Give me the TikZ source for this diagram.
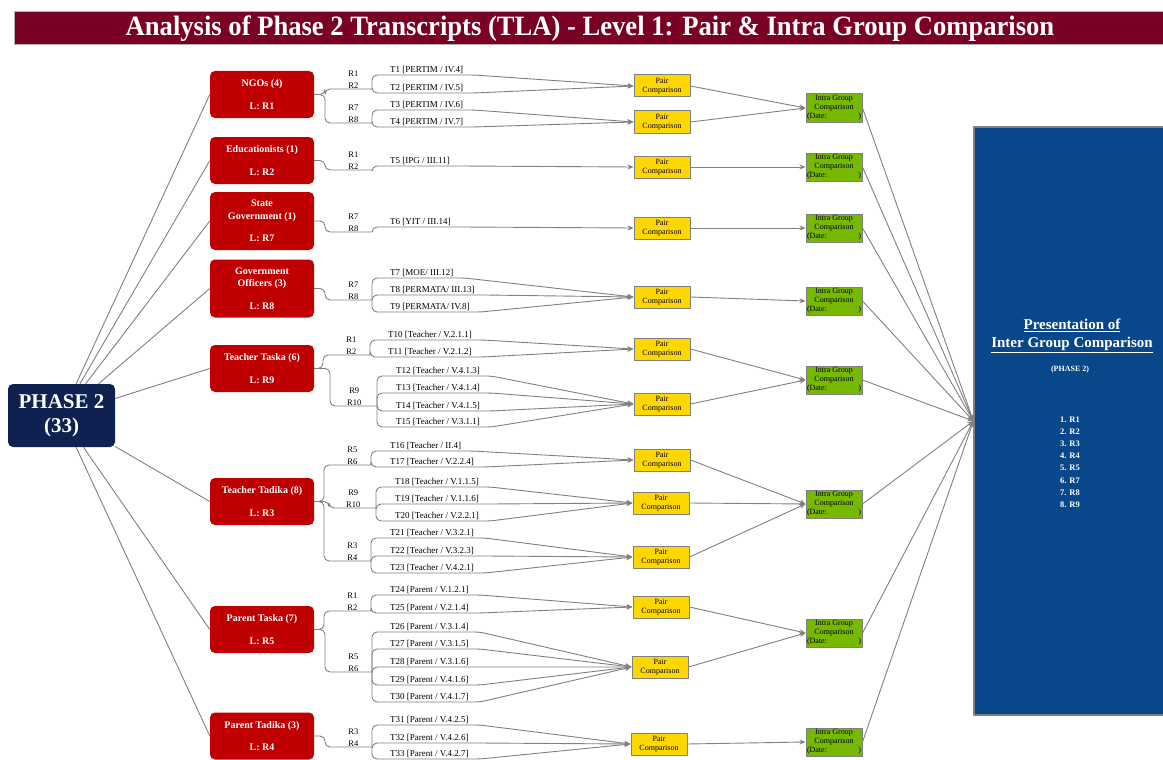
\documentclass[tikz,border=0pt]{standalone}
\usepackage{fontspec}
\setmainfont{Liberation Serif}
\newfontfamily\titlefont[FakeStretch=0.95]{Liberation Serif}
\usetikzlibrary{positioning,arrows.meta}
\definecolor{titlered}{HTML}{7B0026}
\definecolor{groupred}{HTML}{C00000}
\definecolor{phasenavy}{HTML}{0E2150}
\definecolor{pairyellow}{HTML}{FFD700}
\definecolor{intragreen}{HTML}{76B900}
\definecolor{presblue}{HTML}{08488A}
\definecolor{linegray}{HTML}{808080}
\tikzset{
  link/.style={draw=linegray,line width=0.9pt},
  arr/.style={link,-{Stealth[length=6pt,width=5pt]}},
  titlebar/.style={fill=titlered,draw=gray!60,line width=1pt,minimum width=1152pt,minimum height=33pt,inner sep=0pt,text=white,font=\titlefont\bfseries\fontsize{28}{30}\selectfont},
  phase/.style={fill=phasenavy,rounded corners=5pt,minimum width=107pt,minimum height=63pt,inner sep=0pt,align=center,text=white,font=\bfseries\fontsize{21}{24}\selectfont},
  grp/.style={fill=groupred,rounded corners=5pt,minimum width=104pt,minimum height=47pt,inner sep=0pt,align=center,text=white,font=\bfseries\fontsize{10}{12.5}\selectfont},
  tlab/.style={anchor=south west,inner sep=1pt,font=\fontsize{9}{10}\selectfont},
  rlab/.style={align=center,inner sep=0.5pt,font=\fontsize{8.5}{11.5}\selectfont},
  pair/.style={draw=gray,line width=1pt,fill=pairyellow,minimum width=56pt,minimum height=22pt,inner sep=0pt,align=center,font=\fontsize{8}{9.5}\selectfont},
  intra/.style={draw=gray,line width=1pt,fill=intragreen,minimum width=56pt,minimum height=28pt,inner sep=0pt,align=center,font=\fontsize{8}{9}\selectfont},
  present/.style={draw=gray,line width=1.2pt,fill=presblue,minimum width=192pt,minimum height=588pt,inner sep=0pt},
  prestext/.style={text=white,align=center,inner sep=0pt,font=\bfseries\fontsize{8.5}{12.2}\selectfont}
}
\begin{document}
\begin{tikzpicture}[x=1pt,y=-1pt,line join=round]
\useasboundingbox (0,0) rectangle (1163,760);
% title
\node[titlebar] (title) at (590,28.5) {Analysis of Phase 2 Transcripts (TLA) - Level 1: Pair \& Intra Group Comparison};
% phase and groups
\node[phase] (ph) at (61.5,415.5) {PHASE 2\\(33)};
\node[grp] (g1) at (262,94.5) {NGOs (4)\\[10pt]L: R1};
\node[grp] (g2) at (262,160.5) {Educationists (1)\\[10pt]L: R2};
\node[grp,minimum height=58pt] (g3) at (262,221) {State\\Government (1)\\[10pt]L: R7};
\node[grp,minimum height=58pt] (g4) at (262,288.5) {Government\\Officers (3)\\[10pt]L: R8};
\node[grp] (g5) at (262,368.5) {Teacher Taska (6)\\[10pt]L: R9};
\node[grp] (g6) at (262,501.5) {Teacher Tadika (8)\\[10pt]L: R3};
\node[grp] (g7) at (262,629.5) {Parent Taska (7)\\[10pt]L: R5};
\node[grp] (g8) at (262,736) {Parent Tadika (3)\\[10pt]L: R4};
\foreach \g in {g1,g2,g3,g4,g5,g6,g7,g8}
  \draw[link] (ph) -- (\g.west);
% branch points
\coordinate (b1) at (372,89);
\coordinate (b2) at (372,123);
\coordinate (b3) at (372,170);
\coordinate (b4) at (372,232);
\coordinate (b5) at (372,300);
\coordinate (b6) at (370,355);
\coordinate (b7) at (377,406);
\coordinate (b8) at (371,465);
\coordinate (b9) at (376,508);
\coordinate (b10) at (371,561);
\coordinate (b11) at (371,611);
\coordinate (b12) at (372,672);
\coordinate (b13) at (372,747);
\foreach \g/\br in {g1/b1,g1/b2,g2/b3,g3/b4,g4/b5,g5/b6,g5/b7,g6/b8,g6/b9,g6/b10,g7/b11,g7/b12,g8/b13}
  \draw[link,rounded corners=5pt] (\g.east) -| ([xshift=-47pt]\br) -- (\br);
% respondents
\node[rlab,above left=0pt and 13pt of b1] (r1) {R1\\R2};
\node[rlab,above left=0pt and 13pt of b2] (r2) {R7\\R8};
\node[rlab,above left=0pt and 13pt of b3] (r3) {R1\\R2};
\node[rlab,above left=0pt and 13pt of b4] (r4) {R7\\R8};
\node[rlab,above left=0pt and 13pt of b5] (r5) {R7\\R8};
\node[rlab,above left=0pt and 13pt of b6] (r6) {R1\\R2};
\node[rlab,above left=0pt and 15pt of b7] (r7) {R9\\R10};
\node[rlab,above left=0pt and 13pt of b8] (r8) {R5\\R6};
\node[rlab,above left=0pt and 15pt of b9] (r9) {R9\\R10};
\node[rlab,above left=0pt and 13pt of b10] (r10) {R3\\R4};
\node[rlab,above left=0pt and 13pt of b11] (r11) {R1\\R2};
\node[rlab,above left=0pt and 13pt of b12] (r12) {R5\\R6};
\node[rlab,above left=0pt and 13pt of b13] (r13) {R3\\R4};
% transcripts
\node[tlab] (t1) at (389,75) {T1 [PERTIM / IV.4]};
\node[tlab] (t2) at (389,93) {T2 [PERTIM / IV.5]};
\node[tlab] (t3) at (389,110) {T3 [PERTIM / IV.6]};
\node[tlab] (t4) at (389,127) {T4 [PERTIM / IV.7]};
\node[tlab] (t5) at (389,166) {T5 [IPG / III.11]};
\node[tlab] (t6) at (389,227) {T6 [YIT / III.14]};
\node[tlab] (t7) at (389,278) {T7 [MOE/ III.12]};
\node[tlab] (t8) at (389,295) {T8 [PERMATA/ III.13]};
\node[tlab] (t9) at (389,312) {T9 [PERMATA/ IV.8]};
\node[tlab] (t10) at (387,340) {T10 [Teacher / V.2.1.1]};
\node[tlab] (t11) at (387,357) {T11 [Teacher / V.2.1.2]};
\node[tlab] (t12) at (395,376) {T12 [Teacher / V.4.1.3]};
\node[tlab] (t13) at (395,393) {T13 [Teacher / V.4.1.4]};
\node[tlab] (t14) at (395,411) {T14 [Teacher / V.4.1.5]};
\node[tlab] (t15) at (395,427) {T15 [Teacher / V.3.1.1]};
\node[tlab] (t16) at (389,451) {T16 [Teacher / II.4]};
\node[tlab] (t17) at (389,467) {T17 [Teacher / V.2.2.4]};
\node[tlab] (t18) at (394,487) {T18 [Teacher / V.1.1.5]};
\node[tlab] (t19) at (394,504) {T19 [Teacher / V.1.1.6]};
\node[tlab] (t20) at (394,521) {T20 [Teacher / V.2.2.1]};
\node[tlab] (t21) at (389,538) {T21 [Teacher / V.3.2.1]};
\node[tlab] (t22) at (389,556) {T22 [Teacher / V.3.2.3]};
\node[tlab] (t23) at (389,573) {T23 [Teacher / V.4.2.1]};
\node[tlab] (t24) at (389,595) {T24 [Parent / V.1.2.1]};
\node[tlab] (t25) at (389,613) {T25 [Parent / V.2.1.4]};
\node[tlab] (t26) at (389,632) {T26 [Parent / V.3.1.4]};
\node[tlab] (t27) at (389,649) {T27 [Parent / V.3.1.5]};
\node[tlab] (t28) at (389,667) {T28 [Parent / V.3.1.6]};
\node[tlab] (t29) at (389,685) {T29 [Parent / V.4.1.6]};
\node[tlab] (t30) at (389,702) {T30 [Parent / V.4.1.7]};
\node[tlab] (t31) at (389,725) {T31 [Parent / V.4.2.5]};
\node[tlab] (t32) at (389,743) {T32 [Parent / V.4.2.6]};
\node[tlab] (t33) at (389,759) {T33 [Parent / V.4.2.7]};
% pair comparison
\foreach \n/\x/\y in {1/662/86,2/662/122,3/662/167,4/662/228,5/662/297,6/662/349,7/662/404,8/662/460,9/661/503,10/661/557,11/661/607,12/660/667,13/659/744}
  \node[pair] (p\n) at (\x,\y) {Pair\\Comparison};
\foreach \br/\tn/\pr in {b1/t1/p1,b1/t2/p1,b2/t3/p2,b2/t4/p2,b3/t5/p3,b4/t6/p4,b5/t7/p5,b5/t8/p5,b5/t9/p5,b6/t10/p6,b6/t11/p6,b7/t12/p7,b7/t13/p7,b7/t14/p7,b7/t15/p7,b8/t16/p8,b8/t17/p8,b9/t18/p9,b9/t19/p9,b9/t20/p9,b10/t21/p10,b10/t22/p10,b10/t23/p10,b11/t24/p11,b11/t25/p11,b12/t26/p12,b12/t27/p12,b12/t28/p12,b12/t29/p12,b12/t30/p12,b13/t31/p13,b13/t32/p13,b13/t33/p13}
  \draw[arr,rounded corners=5pt] (\br) |- ([xshift=10pt]\tn.south east) -- (\pr.west);
% intra group comparison
\foreach \n/\y in {1/108,2/167,3/228,4/301,5/380,6/504,7/633,8/742}
  \node[intra] (i\n) at (834,\y) {Intra Group\\Comparison\\\makebox[54pt]{(Date:\hfill)}};
\foreach \pr/\ig in {p1/i1,p2/i1,p3/i2,p4/i3,p5/i4,p6/i5,p7/i5,p8/i6,p9/i6,p10/i6,p11/i7,p12/i7,p13/i8}
  \draw[arr] (\pr.east) -- (\ig.west);
% presentation
\node[present] (pres) at (1070,421) {};
\foreach \ig in {i1,i2,i3,i4,i5,i6,i7,i8}
  \draw[arr] (\ig.east) -- (pres.west);
\node[prestext,font=\bfseries\fontsize{15}{18}\selectfont] (ptitle) at (1072,336) {\underline{Presentation of}\\\underline{Inter Group Comparison}};
\node[prestext,font=\bfseries\fontsize{8}{10}\selectfont] (pphase) at (1070,370) {(PHASE 2)};
\node[prestext,align=left] (plist) at (1070,462) {1. R1\\2. R2\\3. R3\\4. R4\\5. R5\\6. R7\\7. R8\\8. R9};
\end{tikzpicture}
\end{document}
